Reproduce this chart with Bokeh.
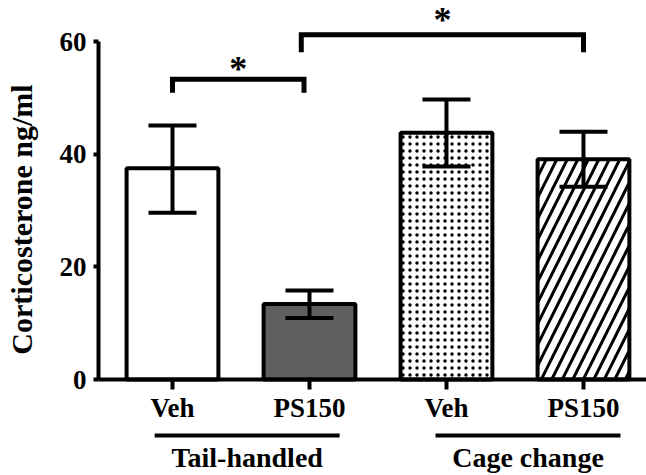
import math
from bokeh.plotting import figure
from bokeh.models import ColumnDataSource, Range1d, FixedTicker, Whisker, TeeHead
from bokeh.core.properties import value
from bokeh.embed import file_html
from bokeh.resources import INLINE

# ---- data ----
groups = ["Tail-handled", "Cage change"]
conditions = ["Veh", "PS150", "Veh", "PS150"]
positions = [1, 2, 3, 4]
means = [37.5, 13.4, 43.8, 39.1]
upper = [45.1, 15.8, 49.7, 44.0]
lower = [29.6, 10.9, 37.8, 34.2]
fills = ["white", "#606060", "white", "white"]
hatches = [" ", " ", ".", "/"]
y_ticks = [0, 20, 40, 60]
y_label = "Corticosterone ng/ml"

# significance brackets
bracket_start = [1.0, 1.94]
bracket_end = [1.96, 4.0]
bracket_top = [53.3, 61.2]
bracket_leg = [50.9, 58.1]
stars = ["*", "*"]
star_y = [55.1, 63.75]

# group underlines (x extent, data units)
group_start = [0.87, 2.92]
group_end = [2.22, 4.27]

FONT = "Liberation Serif"
X_AXIS_AT = 0.46

p = figure(width=646, height=475, x_range=Range1d(-0.2555, 4.46), y_range=Range1d(-17.04, 67.28),
           output_backend="svg", toolbar_location=None,
           min_border_left=0, min_border_right=0, min_border_top=0, min_border_bottom=0)
p.outline_line_color = None
p.xgrid.visible = False
p.ygrid.visible = False
p.background_fill_color = "white"
p.border_fill_color = "white"

src = ColumnDataSource(dict(x=positions, top=means, upper=upper, lower=lower, fill=fills,
                            hatch=hatches,
                            hscale=[8, 8, 7, 21], hweight=[1, 1, 2.0, 3.0]))
p.vbar(x="x", top="top", width=0.67, bottom=0, source=src, fill_color="fill",
       line_color="black", line_width=4, hatch_pattern="hatch", hatch_scale="hscale",
       hatch_weight="hweight", hatch_color="black")

w = Whisker(source=src, base="x", upper="upper", lower="lower", dimension="height",
            line_width=4, line_color="black", level="annotation",
            upper_head=TeeHead(size=48, line_width=4, line_color="black"),
            lower_head=TeeHead(size=48, line_width=4, line_color="black"))
p.add_layout(w)

# brackets
bxs = [[s, s, e, e] for s, e in zip(bracket_start, bracket_end)]
bys = [[l, t, t, l] for t, l in zip(bracket_top, bracket_leg)]
p.multi_line(xs=bxs, ys=bys, line_width=5, line_color="black", line_join="miter")
star_x = [(s + e) / 2 for s, e in zip(bracket_start, bracket_end)]
p.text(x=star_x, y=star_y, text=stars, text_font=value(FONT), text_font_style="bold",
       text_font_size="36px", text_align="center", text_baseline="alphabetic", text_color="black")

# axes
ya = p.yaxis[0]
ya.fixed_location = X_AXIS_AT
ya.bounds = (0, 60)
ya.ticker = FixedTicker(ticks=y_ticks)
ya.axis_line_width = 4
ya.major_tick_line_width = 4
ya.major_tick_out = 5
ya.major_tick_in = 0
ya.minor_tick_line_color = None
ya.major_label_standoff = 7
ya.major_label_text_font = FONT
ya.major_label_text_font_style = "bold"
ya.major_label_text_font_size = "27px"
ya.major_label_text_color = "black"

xa = p.xaxis[0]
xa.fixed_location = 0
xa.bounds = (X_AXIS_AT, 4.46)
xa.ticker = FixedTicker(ticks=positions)
xa.major_label_overrides = {pos: c for pos, c in zip(positions, conditions)}
xa.axis_line_width = 4
xa.major_tick_line_width = 4
xa.major_tick_out = 10
xa.major_tick_in = 0
xa.minor_tick_line_color = None
xa.major_label_standoff = 3
xa.major_label_text_font = FONT
xa.major_label_text_font_style = "bold"
xa.major_label_text_font_size = "27px"
xa.major_label_text_color = "black"

# y axis title
p.text(x=[-0.102], y=[28.4], text=[y_label], angle=math.pi / 2, text_font=value(FONT),
       text_font_style="bold", text_font_size="30px", text_align="center",
       text_baseline="middle", text_color="black")

# group labels and underlines
group_mid = [(s + e) / 2 for s, e in zip(group_start, group_end)]
p.segment(x0=group_start, x1=group_end, y0=[-9.94] * 2, y1=[-9.94] * 2,
          line_width=4, line_color="black")
p.text(x=group_mid, y=[-13.8] * 2, text=groups, text_font=value(FONT), text_font_style="bold",
       text_font_size="28px", text_align="center", text_baseline="alphabetic", text_color="black")

open("out.html", "w").write(file_html(p, INLINE))
